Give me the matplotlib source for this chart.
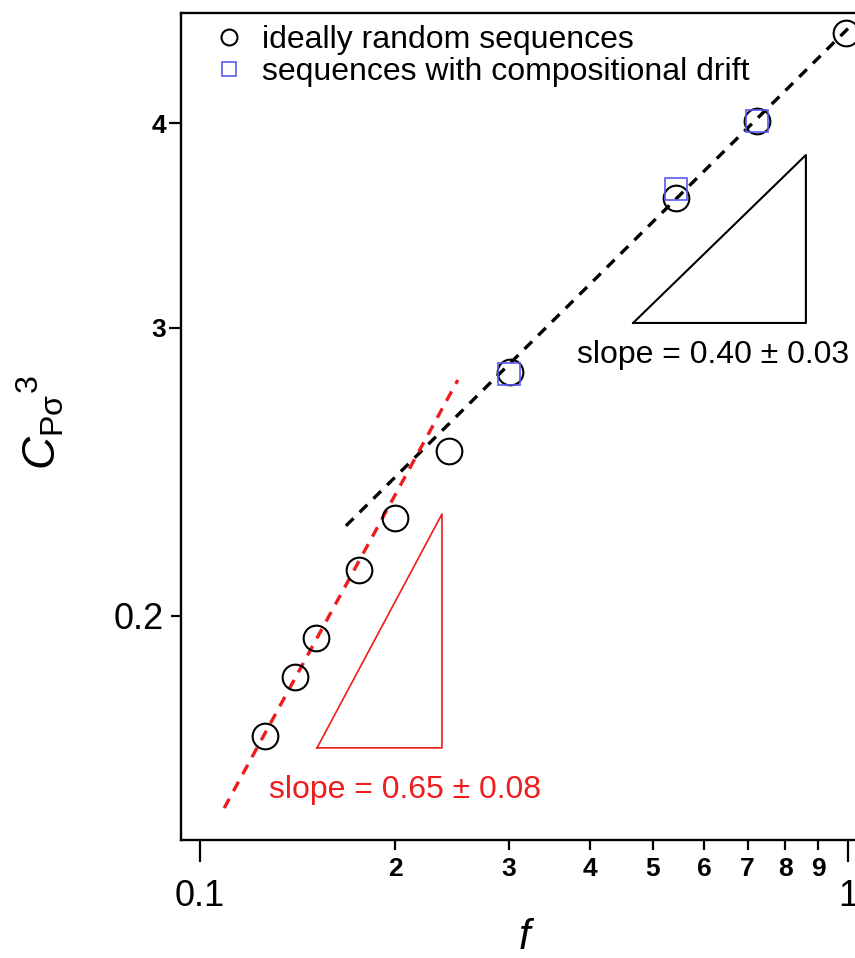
import matplotlib
matplotlib.use("Agg")
import matplotlib.pyplot as plt
from matplotlib.ticker import FixedLocator, FixedFormatter

plt.rcParams["font.family"] = ["Liberation Sans", "DejaVu Sans"]
plt.rcParams["mathtext.fontset"] = "custom"
plt.rcParams["mathtext.rm"] = "Liberation Sans"
plt.rcParams["mathtext.it"] = "Liberation Sans:italic"

# data
f_random = [0.126, 0.140, 0.151, 0.176, 0.200, 0.242, 0.301, 0.543, 0.724, 0.993]
c_random = [0.169, 0.1834, 0.1938, 0.2133, 0.2295, 0.2522, 0.282, 0.360, 0.4015, 0.454]
f_drift = [0.300, 0.543, 0.724]
c_drift = [0.2812, 0.3646, 0.4015]

# fitted lines (end points)
fit_hi_f = [0.168, 1.0]
fit_hi_c = [0.227, 0.457]
fit_lo_f = [0.109, 0.250]
fit_lo_c = [0.1526, 0.2787]

# slope triangles
tri_hi_f = [0.466, 0.861, 0.861, 0.466]
tri_hi_c = [0.302, 0.302, 0.3825, 0.302]
tri_lo_f = [0.1516, 0.2363, 0.2363, 0.1516]
tri_lo_c = [0.1661, 0.1661, 0.2308, 0.1661]

x_major = [0.1, 1.0]
x_major_labels = ["0.1", "1"]
x_minor = [0.2, 0.3, 0.4, 0.5, 0.6, 0.7, 0.8, 0.9]
x_minor_labels = ["2", "3", "4", "5", "6", "7", "8", "9"]
y_major = [0.2]
y_major_labels = ["0.2"]
y_minor = [0.3, 0.4]
y_minor_labels = ["3", "4"]

fig = plt.figure(figsize=(8.55, 9.58), dpi=100)
ax = fig.add_axes([181 / 855, 118 / 958, 694 / 855, 827 / 958])
ax.set_xscale("log")
ax.set_yscale("log")
ax.set_xlim(0.0935, 1.1006)
ax.set_ylim(0.1459, 0.4671)

red = "#ee1c1c"
blue = "#5a5af0"
ax.plot(fit_hi_f, fit_hi_c, color="black", lw=2.4, ls=(0, (3.2, 2.6)), zorder=2)
ax.plot(fit_lo_f, fit_lo_c, color=red, lw=2.4, ls=(0, (3.2, 2.6)), zorder=2)
ax.plot(tri_hi_f, tri_hi_c, color="black", lw=1.5, zorder=1)
ax.plot(tri_lo_f, tri_lo_c, color=red, lw=1.2, zorder=1)

ax.plot(f_random, c_random, "o", ms=18.5, mfc="none", mec="black", mew=1.5,
        label="ideally random sequences", zorder=3)
ax.plot(f_drift, c_drift, "s", ms=16, mfc="none", mec=blue, mew=1.2,
        label="sequences with compositional drift", zorder=3)

ax.text(0.619, 0.2887, "slope = 0.40 ± 0.03", fontsize=23, ha="center", va="center")
ax.text(0.2072, 0.1566, "slope = 0.65 ± 0.08", fontsize=23, ha="center", va="center",
        color=red)

leg = ax.legend(loc="upper left", bbox_to_anchor=(0.018, 1.0085), frameon=False,
                fontsize=23, markerscale=0.62, handlelength=1.0, handletextpad=0.55,
                labelspacing=0.05, borderaxespad=0.2)

ax.xaxis.set_major_locator(FixedLocator(x_major))
ax.xaxis.set_major_formatter(FixedFormatter(x_major_labels))
ax.xaxis.set_minor_locator(FixedLocator(x_minor))
ax.xaxis.set_minor_formatter(FixedFormatter(x_minor_labels))
ax.yaxis.set_major_locator(FixedLocator(y_major))
ax.yaxis.set_major_formatter(FixedFormatter(y_major_labels))
ax.yaxis.set_minor_locator(FixedLocator(y_minor))
ax.yaxis.set_minor_formatter(FixedFormatter(y_minor_labels))

ax.tick_params(axis="x", which="major", length=16, width=1.6, labelsize=26, pad=12)
ax.tick_params(axis="x", which="minor", length=7.5, width=1.6, labelsize=19, pad=5)
ax.tick_params(axis="y", which="major", length=7.5, width=1.6, labelsize=26, pad=5)
ax.tick_params(axis="y", which="minor", length=8.5, width=1.6, labelsize=19, pad=2)
for lab in ax.xaxis.get_minorticklabels() + ax.yaxis.get_minorticklabels():
    lab.set_fontweight("bold")

for s in ax.spines.values():
    s.set_linewidth(1.7)

ax.set_xlabel("$\\mathit{f}$", fontsize=30, labelpad=0)
ax.xaxis.set_label_coords((527 - 181) / 694, -(918 - 840) / 827)
ax.set_ylabel("$\\mathit{C}_{\\mathrm{Pσ}}{}^{3}$", fontsize=33)
ax.yaxis.set_label_coords(-(181 - 66) / 694, (840 - 423) / 827)

fig.savefig("out.png", dpi=100)
